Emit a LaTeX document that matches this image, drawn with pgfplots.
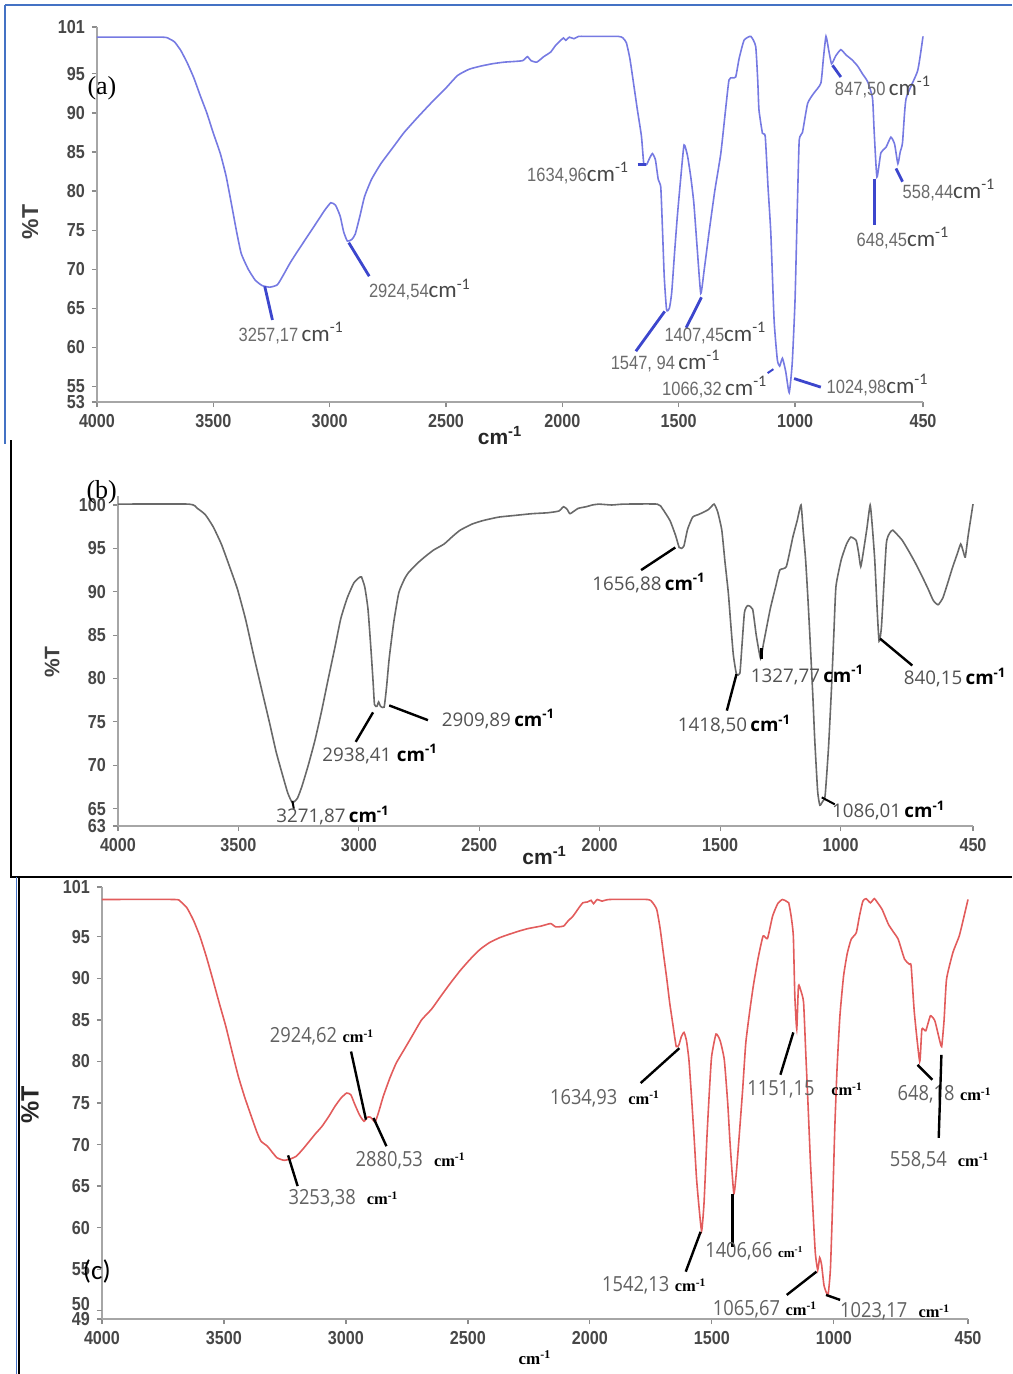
\documentclass[border=0pt]{standalone}
\usepackage{fontspec}
\setmainfont{Liberation Serif}
\setsansfont{Liberation Sans}
\newfontfamily\tickf[FakeStretch=0.86]{Liberation Sans}
\newfontfamily\calib{Carlito}
\newfontfamily\opens{Open Sans}
\newfontfamily\opensn[FakeStretch=0.88]{Open Sans}
\usepackage{pgfplots}
\pgfplotsset{compat=1.18}

\definecolor{curveA}{RGB}{118,122,226}
\definecolor{leadA}{RGB}{60,70,205}
\definecolor{curveB}{RGB}{105,105,105}
\definecolor{curveC}{RGB}{226,92,92}
\definecolor{frameA}{RGB}{68,114,196}

% peak labels of the three spectra
\newcommand\numA[1]{{\tickf\fontsize{9.6}{10}\selectfont\color{black!58}#1}}
\newcommand\cmA{{\calib\fontsize{11.5}{12}\selectfont\color{black!72}cm\textsuperscript{-1}}}
\newcommand\numB[1]{{\opens\fontsize{9.4}{10}\selectfont\color{black!68}#1}}
\newcommand\cmB{{\opens\bfseries\fontsize{9.4}{10}\selectfont cm\textsuperscript{-1}}}
\newcommand\numC[1]{{\opensn\fontsize{10.4}{11}\selectfont\color{black!62}#1}}
\newcommand\cmC{{\rmfamily\bfseries\fontsize{8.2}{9}\selectfont cm\textsuperscript{-1}}}

\tikzset{
  ldA/.style={draw=leadA, line width=1.4pt},
  ldK/.style={draw=black, line width=1.2pt},
}
\pgfplotsset{
  irplot/.style={
    scale only axis, x dir=reverse, xmin=450, xmax=4000,
    axis lines*=left, clip=false,
    axis line style={black!35, line width=1pt},
    xtick={450,1000,1500,2000,2500,3000,3500,4000},
    tick align=outside, major tick length=2.5pt,
    tick style={black!45, line width=0.6pt},
    tick label style={font=\tickf\bfseries\fontsize{9.4}{10}\selectfont, text=black!72},
    /pgf/number format/assume math mode=true,
    /pgf/number format/1000 sep={},
  },
  spec/.style={line width=0.8pt, smooth, tension=0.3},
}

\begin{document}
\begin{tikzpicture}
\path[use as bounding box] (0,0) rectangle (506pt,-687pt);
% panel frames
\draw[frameA, line width=1.2pt] (2.5pt,-2.5pt) -- (506pt,-2.5pt);
\draw[frameA, line width=1.2pt] (2.5pt,-2.5pt) -- (2.5pt,-222pt);
\draw[black, line width=1pt] (5.5pt,-220pt) -- (5.5pt,-438.5pt) -- (506pt,-438.5pt);
\draw[frameA, line width=0.9pt] (8.2pt,-438.5pt) -- (8.2pt,-687pt);
\draw[black, line width=0.8pt] (9.6pt,-438.5pt) -- (9.6pt,-687pt);

%% ---------------- (a) ----------------
\begin{axis}[irplot, at={(48.5pt,-201pt)}, anchor=south west,
  width=413pt, height=187.5pt, ymin=53, ymax=101,
  ytick={53,55,60,65,70,75,80,85,90,95,101}]
\addplot[curveA, spec] coordinates {
(4000,99.7) (3720,99.7) (3690,99.5) (3667,99.1) (3640,98.0) (3612,96.4) (3584,94.5)
(3556,92.2) (3528,90.0) (3501,87.5) (3470,84.8) (3445,81.9) (3420,78.0) (3400,74.8)
(3380,72.0) (3350,70.0) (3320,68.6) (3290,67.9) (3257,67.7) (3225,68.0) (3200,69.2)
(3170,70.8) (3140,72.2) (3100,74.0) (3060,75.8) (3020,77.6) (2995,78.5) (2975,78.2)
(2955,76.8) (2940,74.8) (2924,73.6) (2905,73.8) (2890,74.5) (2870,76.8) (2850,79.3)
(2820,81.5) (2780,83.5) (2730,85.5) (2680,87.5) (2620,89.5) (2560,91.4) (2500,93.2)
(2450,94.8) (2400,95.6) (2350,96.0) (2300,96.3) (2250,96.5) (2200,96.6) (2170,96.7)
(2150,97.2) (2135,96.7) (2110,96.5) (2080,97.2) (2050,97.8) (2030,98.6) (2010,99.2)
(1995,99.6) (1985,99.3) (1970,99.7) (1950,99.5) (1930,99.8) (1900,99.8) (1760,99.8)
(1740,99.6) (1725,99.0) (1710,97.0) (1695,94.0) (1678,90.5) (1660,87.0) (1650,83.5)
(1638,83.4) (1625,84.2) (1613,84.8) (1600,84.0) (1588,81.5) (1577,80.5) (1570,75.4)
(1562,69.0) (1552,64.8) (1540,65.0) (1530,67.0) (1518,72.0) (1506,76.7) (1492,81.4)
(1477,85.9) (1462,84.5) (1448,81.8) (1435,78.5) (1420,72.5) (1405,66.9) (1390,70.0)
(1370,74.6) (1345,80.0) (1319,84.8) (1300,90.0) (1284,94.2) (1270,94.5) (1255,94.6)
(1240,97.0) (1219,99.3) (1190,99.8) (1169,98.5) (1160,94.0) (1155,90.4) (1140,87.4)
(1128,87.0) (1116,80.5) (1104,74.6) (1090,63.5) (1076,58.4) (1066,57.6) (1054,58.6)
(1040,56.9) (1025,54.2) (1012,58.0) (1000,66.0) (990,78.0) (982,86.5) (968,87.5)
(946,91.2) (920,92.5) (889,93.8) (878,97.0) (867,99.8) (855,98.0) (843,96.3)
(825,97.3) (803,98.1) (780,97.4) (755,96.8) (731,96.0) (710,95.0) (688,94.0)
(667,91.9) (660,87.7) (648,81.8) (631,84.9) (609,85.6) (588,86.9) (572,86.0)
(558,83.5) (548,85.0) (538,86.2) (523,91.8) (473,95.4) (450,99.8)
};
\draw[ldA] (axis cs:3279,67.8) -- (axis cs:3246,63.5);
\node at (axis cs:3165,61.8) {\numA{3257,17}\,\cmA};
\draw[ldA] (axis cs:2918,73.4) -- (axis cs:2830,69.1);
\node at (axis cs:2612,67.4) {\numA{2924,54}\cmA};
\draw[ldA] (axis cs:1676,83.4) -- (axis cs:1642,83.4);
\node at (axis cs:1932,82.3) {\numA{1634,96}\cmA};
\draw[ldA] (axis cs:1684,59.5) -- (axis cs:1560,64.6);
\node at (axis cs:1556,58.2) {\numA{1547, 94}\,\cmA};
\draw[ldA] (axis cs:1468,62.5) -- (axis cs:1402,66.4);
\node at (axis cs:1342,61.8) {\numA{1407,45}\cmA};
\draw[ldA, line width=1pt] (axis cs:1118,56.7) -- (axis cs:1093,57.2);
\node at (axis cs:1345,54.9) {\numA{1066,32}\,\cmA};
\draw[ldA] (axis cs:1004,56.0) -- (axis cs:889,54.9);
\node at (axis cs:645,55.2) {\numA{1024,98}\cmA};
\draw[ldA] (axis cs:839,96.1) -- (axis cs:803,94.6);
\node at (axis cs:622,93.3) {\numA{847,50}\,\cmA};
\draw[ldA] (axis cs:657,81.6) -- (axis cs:657,75.6);
\node at (axis cs:536,74.0) {\numA{648,45}\cmA};
\draw[ldA] (axis cs:566,82.9) -- (axis cs:538,81.2);
\node at (axis cs:338,80.1) {\numA{558,44}\cmA};
\node[font=\sffamily\bfseries\fontsize{11.5}{12}\selectfont, text=black!75, rotate=90]
  at (axis description cs:-0.081,0.48) {\%T};
\node[font=\sffamily\bfseries\fontsize{10.5}{11}\selectfont, text=black!85]
  at (axis description cs:0.488,-0.09) {cm\textsuperscript{-1}};
\node[font=\rmfamily\fontsize{13}{14}\selectfont] at (axis description cs:0.006,0.837) {(a)};
\end{axis}

%% ---------------- (b) ----------------
\begin{axis}[irplot, at={(59pt,-413pt)}, anchor=south west,
  width=427.5pt, height=164.85pt, ymin=63, ymax=101,
  ytick={63,65,70,75,80,85,90,95,100}]
\addplot[curveB, spec] coordinates {
(4000,100.1) (3705,100.1) (3670,99.6) (3638,98.9) (3605,97.5) (3571,95.5) (3538,93.0)
(3504,90.3) (3470,86.8) (3437,82.7) (3404,78.8) (3370,74.8) (3343,71.5) (3316,68.8)
(3295,66.8) (3276,65.7) (3255,66.2) (3236,67.6) (3210,70.0) (3182,72.9) (3155,76.2)
(3129,79.7) (3100,83.5) (3075,86.9) (3048,89.3) (3021,91.0) (3000,91.6) (2989,91.7)
(2975,90.5) (2962,88.0) (2950,83.5) (2941,79.7) (2935,77.0) (2925,76.8) (2918,77.3)
(2910,76.8) (2895,76.7) (2885,79.0) (2874,82.3) (2855,86.5) (2834,89.9) (2810,91.5)
(2794,92.2) (2760,93.2) (2727,94.0) (2690,94.8) (2646,95.5) (2610,96.4) (2579,97.1)
(2530,97.8) (2485,98.2) (2420,98.6) (2351,98.8) (2280,99.0) (2217,99.1) (2170,99.3)
(2150,99.8) (2135,99.5) (2123,99.0) (2090,99.6) (2056,99.8) (2030,100.0) (2003,100.1)
(1950,100.0) (1900,100.1) (1761,100.1) (1740,99.6) (1708,98.2) (1685,96.5) (1670,95.1)
(1660,95.0) (1650,95.3) (1635,97.2) (1614,98.6) (1590,98.9) (1574,99.1) (1547,99.5)
(1525,100.1) (1510,99.2) (1493,97.1) (1480,93.5) (1466,89.9) (1455,86.0) (1445,82.7)
(1432,80.5) (1418,80.6) (1410,83.5) (1399,87.6) (1386,88.4) (1365,88.0) (1350,85.0)
(1332,82.3) (1320,84.0) (1292,88.0) (1270,90.5) (1252,92.5) (1225,92.9) (1198,96.3)
(1180,98.2) (1164,100.0) (1155,97.0) (1145,93.7) (1135,89.0) (1126,84.2) (1115,78.0)
(1107,72.9) (1095,67.0) (1086,65.4) (1075,65.8) (1064,66.5) (1050,72.0) (1038,78.6)
(1028,85.0) (1019,90.6) (997,93.7) (975,95.5) (957,96.3) (935,95.9) (925,94.5)
(916,92.9) (903,95.0) (890,97.4) (877,100.0) (868,97.5) (858,93.7) (848,88.0)
(840,84.3) (830,86.0) (810,95.5) (795,96.8) (783,97.1) (765,96.6) (743,95.9)
(715,94.6) (689,93.3) (660,91.7) (636,90.3) (615,89.0) (595,88.5) (575,89.3)
(555,91.0) (535,92.8) (515,94.4) (501,95.5) (490,94.6) (482,94.0) (470,96.5) (450,100.1)
};
\draw[ldK, line width=1pt] (axis cs:3276,65.9) -- (axis cs:3270,65.0);
\node at (axis cs:3107,64.2) {\numB{3271,87}\,\cmB};
\draw[ldK] (axis cs:2941,76.1) -- (axis cs:3013,72.7);
\node at (axis cs:2912,71.3) {\numB{2938,41}\;\cmB};
\draw[ldK] (axis cs:2874,76.9) -- (axis cs:2713,75.2);
\node at (axis cs:2420,75.3) {\numB{2909,89}\,\cmB};
\draw[ldK] (axis cs:1828,92.5) -- (axis cs:1686,95.1);
\node at (axis cs:1795,91.0) {\numB{1656,88}\,\cmB};
\draw[ldK] (axis cs:1432,80.5) -- (axis cs:1472,76.3);
\node at (axis cs:1440,74.7) {\numB{1418,50}\,\cmB};
\draw[ldK, line width=1.6pt] (axis cs:1327,83.5) -- (axis cs:1327,82.2);
\node at (axis cs:1137,80.4) {\numB{1327,77}\,\cmB};
\draw[ldK, line width=1pt] (axis cs:1078,66.3) -- (axis cs:1024,65.5);
\node at (axis cs:800,64.8) {\numB{1086,01}\,\cmB};
\draw[ldK] (axis cs:836,84.6) -- (axis cs:702,81.5);
\node at (axis cs:524,80.1) {\numB{840,15}\,\cmB};
\node[font=\sffamily\bfseries\fontsize{10.5}{11}\selectfont, text=black!75, rotate=90]
  at (axis description cs:-0.077,0.497) {\%T};
\node[font=\sffamily\bfseries\fontsize{10.5}{11}\selectfont, text=black!85]
  at (axis description cs:0.499,-0.09) {cm\textsuperscript{-1}};
\node[font=\rmfamily\fontsize{13}{14}\selectfont] at (axis description cs:-0.019,1.013) {(b)};
\end{axis}

%% ---------------- (c) ----------------
\begin{axis}[irplot, at={(51pt,-659.5pt)}, anchor=south west,
  width=433pt, height=216pt, ymin=49, ymax=101,
  ytick={49,55,60,65,70,75,80,85,90,95,101},
  extra y ticks={50},
  extra y tick style={yticklabel style={yshift=3.5pt}}]
\addplot[curveC, spec] coordinates {
(4000,99.5) (3704,99.5) (3680,99.3) (3652,98.5) (3625,97.0) (3599,95.1) (3572,92.6)
(3546,89.9) (3520,87.1) (3493,84.3) (3467,81.2) (3441,78.2) (3415,75.7) (3388,73.4)
(3365,71.5) (3348,70.4) (3322,69.8) (3300,69.0) (3282,68.4) (3253,68.1) (3225,68.3)
(3203,68.6) (3175,69.5) (3150,70.4) (3125,71.3) (3098,72.2) (3070,73.4) (3045,74.6)
(3020,75.6) (2997,76.2) (2980,76.0) (2966,75.0) (2945,73.6) (2926,72.8) (2912,73.3)
(2900,73.3) (2890,73.0) (2880,72.7) (2865,74.0) (2847,75.8) (2820,78.0) (2794,79.8)
(2760,81.5) (2728,83.1) (2690,85.0) (2649,86.3) (2610,87.9) (2570,89.5) (2530,91.0)
(2491,92.3) (2450,93.5) (2412,94.3) (2370,94.9) (2332,95.3) (2290,95.7) (2253,96.0)
(2200,96.3) (2161,96.6) (2140,96.2) (2108,96.3) (2090,96.9) (2069,97.5) (2045,98.5)
(2029,99.1) (2010,99.2) (1995,99.4) (1985,99.0) (1970,99.5) (1950,99.3) (1920,99.5)
(1765,99.5) (1745,99.2) (1726,98.3) (1712,96.0) (1699,93.1) (1685,90.0) (1673,87.1)
(1660,84.5) (1646,81.8) (1635,82.0) (1625,83.0) (1614,83.5) (1604,82.5) (1594,80.2)
(1584,76.0) (1573,71.0) (1563,66.0) (1554,62.9) (1542,59.6) (1532,63.0) (1520,71.0)
(1510,76.5) (1501,80.6) (1483,83.3) (1466,82.5) (1449,80.2) (1435,75.0) (1425,70.0)
(1410,64.1) (1400,66.5) (1388,71.0) (1374,76.5) (1361,82.2) (1345,86.0) (1330,89.1)
(1310,92.5) (1290,95.1) (1272,94.8) (1251,97.5) (1230,99.0) (1211,99.5) (1195,99.3)
(1185,99.1) (1175,97.5) (1166,95.1) (1160,88.0) (1152,83.9) (1145,89.1) (1135,88.5)
(1124,87.1) (1115,81.0) (1106,75.0) (1096,68.0) (1087,62.9) (1076,57.0) (1066,54.9)
(1058,56.4) (1050,55.5) (1040,53.0) (1024,51.9) (1014,55.0) (1005,62.9) (996,72.0)
(987,79.0) (975,85.5) (960,90.3) (945,93.0) (929,94.7) (908,95.5) (895,97.5)
(881,99.3) (868,99.6) (850,99.1) (834,99.6) (818,99.0) (802,98.3) (776,96.5)
(756,95.6) (736,94.7) (710,92.3) (690,91.7) (683,91.5) (670,85.9) (648,80.0)
(639,83.9) (623,83.7) (604,85.5) (586,84.9) (570,83.0) (558,81.8) (548,85.0)
(538,89.9) (512,93.1) (486,95.1) (470,97.0) (450,99.5)
};
\draw[ldK] (axis cs:3237,68.7) -- (axis cs:3198,65.0);
\node at (axis cs:3010,63.5) {\numC{3253,38}\;\;\cmC};
\draw[ldK] (axis cs:2979,81.2) -- (axis cs:2918,73.0);
\node at (axis cs:3098,83.0) {\numC{2924,62}\;\cmC};
\draw[ldK] (axis cs:2887,73.2) -- (axis cs:2834,69.8);
\node at (axis cs:2735,68.1) {\numC{2880,53}\;\;\cmC};
\draw[ldK] (axis cs:1792,77.4) -- (axis cs:1633,81.6);
\node at (axis cs:1938,75.6) {\numC{1634,93}\;\;\cmC};
\draw[ldK] (axis cs:1607,54.7) -- (axis cs:1546,59.5);
\node at (axis cs:1736,53.0) {\numC{1542,13}\;\cmC};
\draw[ldK, line width=1.6pt] (axis cs:1414,64.1) -- (axis cs:1414,57.7);
\node at (axis cs:1326,57.2) {\numC{1406,66}\;{\rmfamily\bfseries\fontsize{6.5}{7}\selectfont cm\textsuperscript{-1}}};
\draw[ldK] (axis cs:1166,83.5) -- (axis cs:1219,78.4);
\node at (axis cs:1118,76.6) {\numC{1151,15}\;\;\;\cmC};
\draw[ldK] (axis cs:657,79.6) -- (axis cs:596,77.8);
\node at (axis cs:546,76.0) {\numC{648,18}\;\cmC};
\draw[ldK] (axis cs:559,80.8) -- (axis cs:570,70.8);
\node at (axis cs:566,68.1) {\numC{558,54}\;\;\cmC};
\draw[ldK] (axis cs:1193,51.9) -- (axis cs:1071,54.7);
\node at (axis cs:1282,50.2) {\numC{1065,67}\;\cmC};
\draw[ldK] (axis cs:1032,51.9) -- (axis cs:974,51.3);
\node at (axis cs:749,49.9) {\numC{1023,17}\;\;\cmC};
\node[font=\sffamily\bfseries\fontsize{12.5}{13}\selectfont, text=black!85, rotate=90]
  at (axis description cs:-0.083,0.495) {\%T};
\node[font=\rmfamily\bfseries\fontsize{8.5}{9}\selectfont]
  at (axis description cs:0.5,-0.09) {cm\textsuperscript{-1}};
\node[font=\calib\fontsize{13.5}{14}\selectfont] at (axis description cs:-0.006,0.109) {(c)};
\end{axis}
\end{tikzpicture}
\end{document}
